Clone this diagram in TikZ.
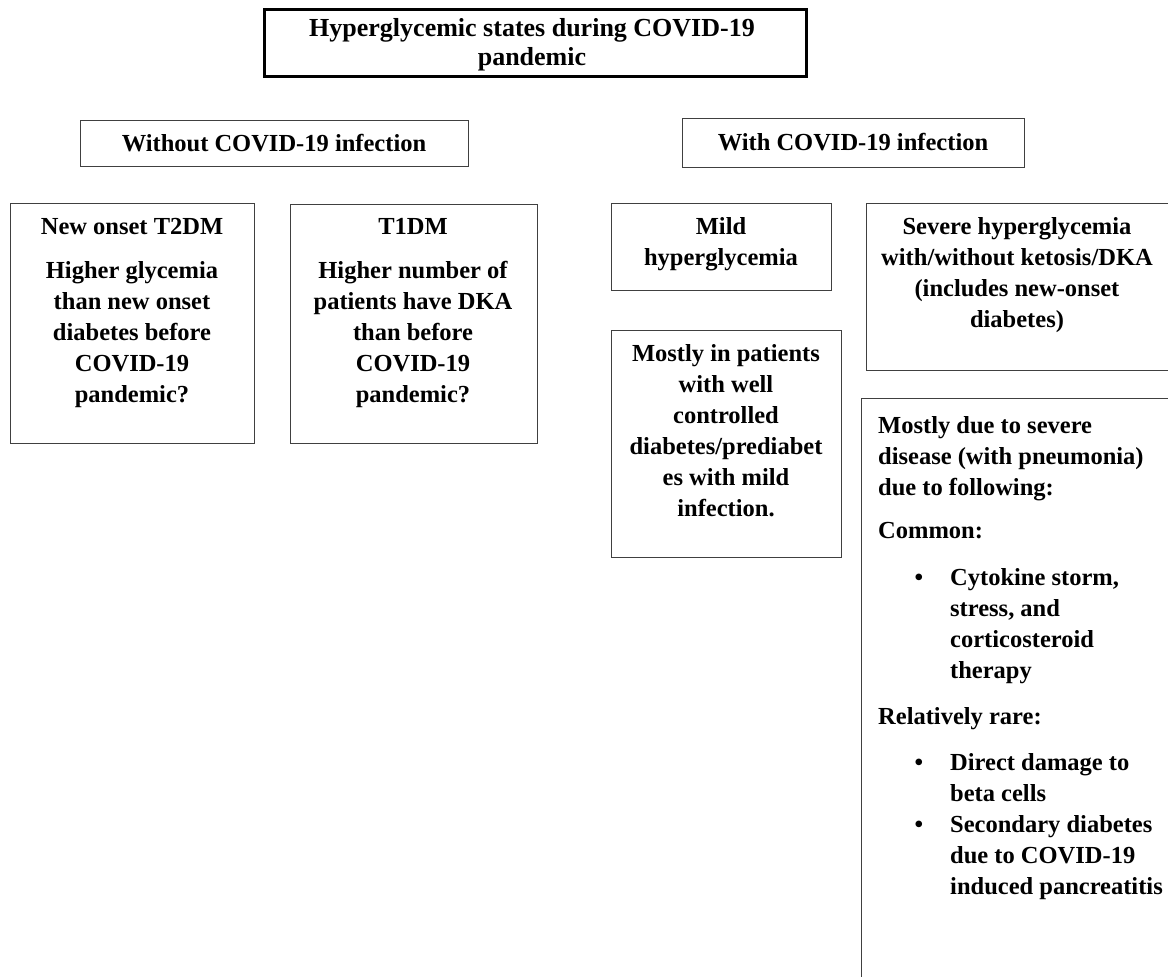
\documentclass[tikz,border=0pt]{standalone}
\usepackage{fontspec}
\setmainfont{Liberation Serif}
\begin{document}
\begin{tikzpicture}[x=1pt,y=-1pt,
  box/.style={draw=black!75, line width=1.1pt, inner sep=0pt, anchor=north west},
  txt/.style={font=\bfseries\fontsize{24.5}{31}\selectfont, align=center, anchor=base, inner sep=0pt},
  ltxt/.style={font=\bfseries\fontsize{24.5}{31}\selectfont, align=left, anchor=base west, inner sep=0pt},
  bul/.style={font=\bfseries\fontsize{24.5}{31}\selectfont, anchor=base, inner sep=0pt}]
\useasboundingbox (0,0) rectangle (1168,977);
\clip (0,0) rectangle (1168,977);

% title
\node[box, draw=black, line width=2.6pt, minimum width=542pt, minimum height=67pt] (title) at (263,8) {};
\node[txt, font=\bfseries\fontsize{26}{29}\selectfont] (titletxt) at (532,65) {Hyperglycemic states during COVID-19\\pandemic};

% level 2
\node[box, minimum width=388pt, minimum height=46pt] (without) at (80,120) {};
\node[txt] (withouttxt) at (274,151) {Without COVID-19 infection};
\node[box, minimum width=342pt, minimum height=49pt] (with) at (682,118) {};
\node[txt] (withtxt) at (853,150) {With COVID-19 infection};

% left boxes
\node[box, minimum width=244pt, minimum height=240pt] (t2) at (10,203) {};
\node[txt] (t2head) at (132,234) {New onset T2DM};
\node[txt] (t2txt) at (132,402) {Higher glycemia\\than new onset\\diabetes before\\COVID-19\\pandemic?};

\node[box, minimum width=247pt, minimum height=239pt] (t1) at (290,204) {};
\node[txt] (t1head) at (413,234) {T1DM};
\node[txt] (t1txt) at (413,402) {Higher number of\\patients have DKA\\than before\\COVID-19\\pandemic?};

% mild
\node[box, minimum width=220pt, minimum height=87pt] (mild) at (611,203) {};
\node[txt] (mildtxt) at (721,265) {Mild\\hyperglycemia};
\node[box, minimum width=230pt, minimum height=227pt] (mild2) at (611,330) {};
\node[txt] (mild2txt) at (726,516) {Mostly in patients\\with well\\controlled\\diabetes/prediabet\\es with mild\\infection.};

% severe
\node[box, minimum width=320pt, minimum height=167pt] (severe) at (866,203) {};
\node[txt] (severetxt) at (1017,327) {Severe hyperglycemia\\with/without ketosis/DKA\\(includes new-onset\\diabetes)};

\node[box, minimum width=320pt, minimum height=620pt] (causes) at (861,398) {};
\node[ltxt] (c1) at (878,495) {Mostly due to severe\\disease (with pneumonia)\\due to following:};
\node[ltxt] (c2) at (878,538) {Common:};
\node[bul] (b1) at (919,585) {\textbullet};
\node[ltxt] (c3) at (950,678) {Cytokine storm,\\stress, and\\corticosteroid\\therapy};
\node[ltxt] (c4) at (878,724) {Relatively rare:};
\node[bul] (b2) at (919,770) {\textbullet};
\node[ltxt] (c5) at (950,801) {Direct damage to\\beta cells};
\node[bul] (b3) at (919,832) {\textbullet};
\node[ltxt] (c6) at (950,894) {Secondary diabetes\\due to COVID-19\\induced pancreatitis};
\end{tikzpicture}
\end{document}
